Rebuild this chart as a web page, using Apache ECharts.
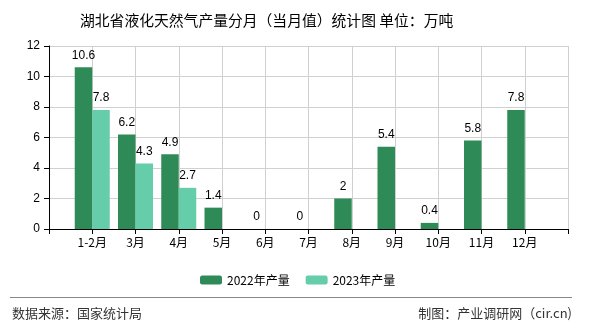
<!DOCTYPE html>
<html>
<head>
<meta charset="utf-8">
<script src="https://cdn.jsdelivr.net/npm/echarts@6/dist/echarts.min.js"></script>
<style>
html,body{margin:0;padding:0;background:#fff;}
#c{width:590px;height:330px;}
</style>
</head>
<body>
<div id="c"></div>
<script>
const categories = ["1-2月","3月","4月","5月","6月","7月","8月","9月","10月","11月","12月"];
const series2022 = [10.6, 6.2, 4.9, 1.4, 0, 0, 2, 5.4, 0.4, 5.8, 7.8];
const series2023 = [7.8, 4.3, 2.7, null, null, null, null, null, null, null, null];
const seriesNames = ["2022年产量", "2023年产量"];
const yTicks = [0, 2, 4, 6, 8, 10, 12];
const titleText = "湖北省液化天然气产量分月（当月值）统计图 单位：万吨";
const sourceText = "数据来源：国家统计局";
const makerText = "制图：产业调研网（cir.cn)";

const cjk = '"Noto Sans CJK SC", "Noto Sans", sans-serif';
// pad with empty slots at both ends (axis runs from an empty slot to an empty slot)
const cats = [""].concat(categories, [""]);
const d22 = [null].concat(series2022, [null]);
const d23 = [null].concat(series2023, [null]);

const chart = echarts.init(document.getElementById('c'), null, {renderer: 'canvas'});
const label = {show: true, position: 'top', color: '#000', fontSize: 12, fontFamily: '"Liberation Sans", sans-serif', distance: 6};
chart.setOption({
  animation: false,
  backgroundColor: '#fff',
  title: {
    text: titleText, left: 75, top: 8,
    textStyle: {fontSize: 14.8, fontWeight: 'normal', color: '#000', fontFamily: cjk}
  },
  legend: {
    data: seriesNames, left: 195, top: 269, itemWidth: 22, itemHeight: 9, itemGap: 16,
    textStyle: {fontSize: 12, color: '#000', fontFamily: cjk}
  },
  grid: {left: 49, right: 22, top: 46, bottom: 101, containLabel: false},
  xAxis: {
    type: 'category', data: cats, boundaryGap: false,
    axisLine: {lineStyle: {color: '#000'}},
    axisTick: {show: true, length: 5, lineStyle: {color: '#000'}},
    axisLabel: {color: '#000', fontSize: 12, fontFamily: cjk, margin: 7, interval: 0},
    splitLine: {show: true, lineStyle: {color: '#d0d0d0'}}
  },
  yAxis: {
    type: 'value', min: yTicks[0], max: yTicks[yTicks.length - 1], interval: 2,
    axisLine: {show: true, lineStyle: {color: '#000'}},
    axisTick: {show: true, length: 5, lineStyle: {color: '#000'}},
    axisLabel: {color: '#000', fontSize: 12, fontFamily: '"Liberation Sans", sans-serif', margin: 9},
    splitLine: {show: true, lineStyle: {color: '#d0d0d0'}}
  },
  series: [
    {name: seriesNames[0], type: 'bar', data: d22, barWidth: 17.5, barGap: '0%', itemStyle: {color: '#2e8b57'}, label: label},
    {name: seriesNames[1], type: 'bar', data: d23, barWidth: 17.5, barGap: '0%', itemStyle: {color: '#66cdaa'}, label: label}
  ],
  graphic: [
    {type: 'line', shape: {x1: 10, y1: 297.5, x2: 572, y2: 297.5}, style: {stroke: '#888', lineWidth: 1}},
    {type: 'text', left: 12, top: 307, style: {text: sourceText, fontSize: 13, fill: '#333', fontFamily: cjk}},
    {type: 'text', right: 18, top: 307, style: {text: makerText, fontSize: 13, fill: '#333', fontFamily: cjk}}
  ]
});
</script>
</body>
</html>
